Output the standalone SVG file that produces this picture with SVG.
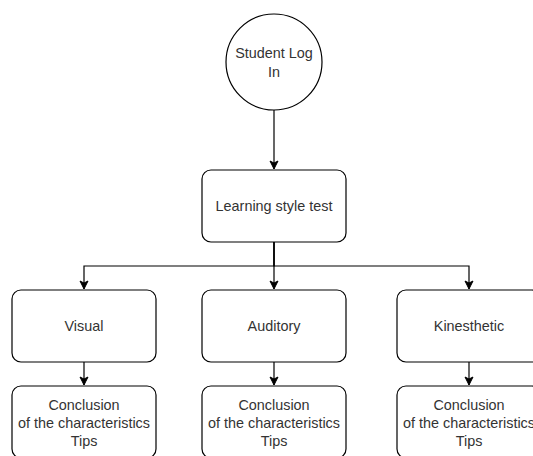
<svg xmlns="http://www.w3.org/2000/svg" width="533" height="456" viewBox="0 0 533 456">
<defs>
<style>
.n{fill:#ffffff;stroke:#000000;stroke-width:1.2}
.t{font-family:"Liberation Sans",Arial,Helvetica,sans-serif;font-size:14.4px;fill:#333333;text-anchor:middle}
.e{fill:none;stroke:#000000;stroke-width:1.2}
</style>
<marker id="arr" markerUnits="userSpaceOnUse" markerWidth="10" markerHeight="10" viewBox="0 0 10 10" refX="9" refY="5" orient="auto">
<path d="M1,1 L9,5 L1,9 L3,5 z" fill="#000000" stroke="#000000" stroke-width="1"/>
</marker>
</defs>
<rect width="533" height="456" fill="#ffffff"/>
<g id="connectors">
<path class="e" d="M274,110 V169" marker-end="url(#arr)"/>
<path class="e" d="M274,242 V266 H84 V289" marker-end="url(#arr)"/>
<path class="e" d="M274,242 V289" marker-end="url(#arr)"/>
<path class="e" d="M274,242 V266 H469 V289" marker-end="url(#arr)"/>
<path class="e" d="M84,362 V385" marker-end="url(#arr)"/>
<path class="e" d="M274,362 V385" marker-end="url(#arr)"/>
<path class="e" d="M469,362 V385" marker-end="url(#arr)"/>
</g>
<g id="start">
<circle class="n" cx="274" cy="62" r="48"/>
<text class="t" x="274" y="58">Student Log</text>
<text class="t" x="274" y="77">In</text>
</g>
<g id="test">
<rect class="n" x="202" y="170" width="144" height="72" rx="9"/>
<text class="t" x="274" y="211">Learning style test</text>
</g>
<g id="visual">
<rect class="n" x="12" y="290" width="144" height="72" rx="9"/>
<text class="t" x="84" y="331">Visual</text>
</g>
<g id="auditory">
<rect class="n" x="202" y="290" width="144" height="72" rx="9"/>
<text class="t" x="274" y="331">Auditory</text>
</g>
<g id="kinesthetic">
<rect class="n" x="397" y="290" width="144" height="72" rx="9"/>
<text class="t" x="469" y="331">Kinesthetic</text>
</g>
<g id="conclusion-visual">
<rect class="n" x="12" y="386" width="144" height="72" rx="9"/>
<text class="t" x="84" y="410">Conclusion</text>
<text class="t" x="84" y="428">of the characteristics</text>
<text class="t" x="84" y="446">Tips</text>
</g>
<g id="conclusion-auditory">
<rect class="n" x="202" y="386" width="144" height="72" rx="9"/>
<text class="t" x="274" y="410">Conclusion</text>
<text class="t" x="274" y="428">of the characteristics</text>
<text class="t" x="274" y="446">Tips</text>
</g>
<g id="conclusion-kinesthetic">
<rect class="n" x="397" y="386" width="144" height="72" rx="9"/>
<text class="t" x="469" y="410">Conclusion</text>
<text class="t" x="469" y="428">of the characteristics</text>
<text class="t" x="469" y="446">Tips</text>
</g>
</svg>
